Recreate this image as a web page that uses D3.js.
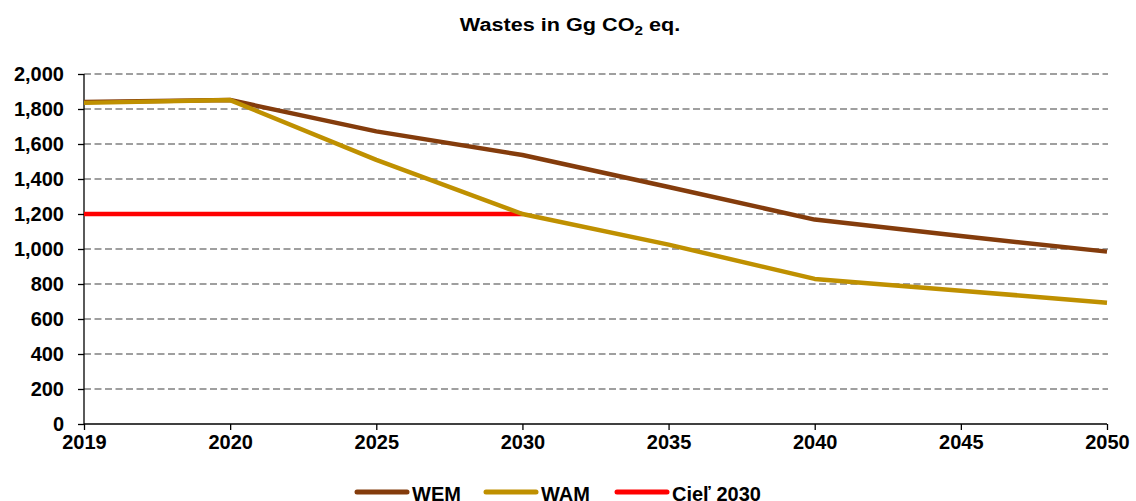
<!DOCTYPE html>
<html><head><meta charset="utf-8">
<script src="https://cdn.jsdelivr.net/npm/d3@7"></script>
<style>body{margin:0;background:#fff}svg{display:block;font-family:"Liberation Sans",Arial,sans-serif;font-weight:bold}</style>
</head><body><svg id="c" width="1136" height="501"></svg>
<script>
const years = ["2019","2020","2025","2030","2035","2040","2045","2050"];
const wem = [1840, 1851, 1672, 1537, 1354, 1168, 1074, 985];
const wam = [1835, 1851, 1509, 1200, 1025, 829, 762, 693];
const target = [1200, 1200, 1200, 1200, null, null, null, null];
const yTicks = [0,200,400,600,800,1000,1200,1400,1600,1800,2000];
const seriesNames = ["WEM","WAM","Cieľ 2030"];
const colors = ["#843C0C","#BF9000","#FF0000"];

const svg = d3.select("#c");
const x = d3.scalePoint().domain(years).range([84, 1107]).padding(0);
const y = d3.scaleLinear().domain([0,2000]).range([424, 74]);
const FS = 20;

// grid
svg.append("g").selectAll("line").data(yTicks.filter(d=>d>0)).join("line")
  .attr("x1", 84).attr("x2", 1108).attr("y1", d=>y(d)).attr("y2", d=>y(d))
  .attr("stroke","#808080").attr("stroke-width",1.6).attr("stroke-dasharray","7,3.5");

// y axis
const ya = svg.append("g").attr("transform","translate(84,0)")
  .call(d3.axisLeft(y).tickValues(yTicks).tickFormat(d3.format(",")).tickSize(6).tickPadding(14));
ya.select(".domain").attr("stroke","#000").attr("stroke-width",1.3).attr("d",`M0,${y(0)}V${y(2000)}`);
ya.selectAll(".tick line").attr("stroke","#000").attr("stroke-width",1.3);
ya.selectAll("text").attr("font-size",FS).attr("font-weight","bold").attr("fill","#000").attr("font-family","Liberation Sans, Arial, sans-serif");

// x axis
const xa = svg.append("g").attr("transform",`translate(0,${y(0)})`)
  .call(d3.axisBottom(x).tickSize(6).tickPadding(5));
xa.select(".domain").attr("stroke","#000").attr("stroke-width",1.3).attr("d","M84,0H1107");
xa.selectAll(".tick line").attr("stroke","#000").attr("stroke-width",1.3);
xa.selectAll("text").attr("font-size",FS).attr("font-weight","bold").attr("fill","#000").attr("font-family","Liberation Sans, Arial, sans-serif");

// lines
const line = d3.line().defined(d=>d[1]!=null).x(d=>x(d[0])).y(d=>y(d[1]));
const series = [wem, wam, target];
[target, wem, wam].forEach(s=>{
  const i = series.indexOf(s);
  svg.append("path").datum(years.map((yr,k)=>[yr,s[k]]))
    .attr("d", line).attr("fill","none").attr("stroke",colors[i])
    .attr("stroke-width",4.5).attr("stroke-linejoin","round");
});

// title
const t = svg.append("text").attr("transform","translate(570,31) scale(1.17,1)").attr("text-anchor","middle")
  .attr("font-size",18.5).attr("fill","#000");
t.append("tspan").text("Wastes in Gg CO");
t.append("tspan").text("2").attr("font-size",13).attr("dy",4);
t.append("tspan").text(" eq.").attr("dy",-4);

// legend
const lx = [355, 484, 615];
const lg = svg.append("g");
seriesNames.forEach((n,i)=>{
  lg.append("line").attr("x1",lx[i]+2).attr("x2",lx[i]+52).attr("y1",492).attr("y2",492)
    .attr("stroke",colors[i]).attr("stroke-width",5).attr("stroke-linecap","round");
  lg.append("text").attr("x",lx[i]+57).attr("y",501).attr("font-size",FS).attr("fill","#000").text(n);
});
</script></body></html>
